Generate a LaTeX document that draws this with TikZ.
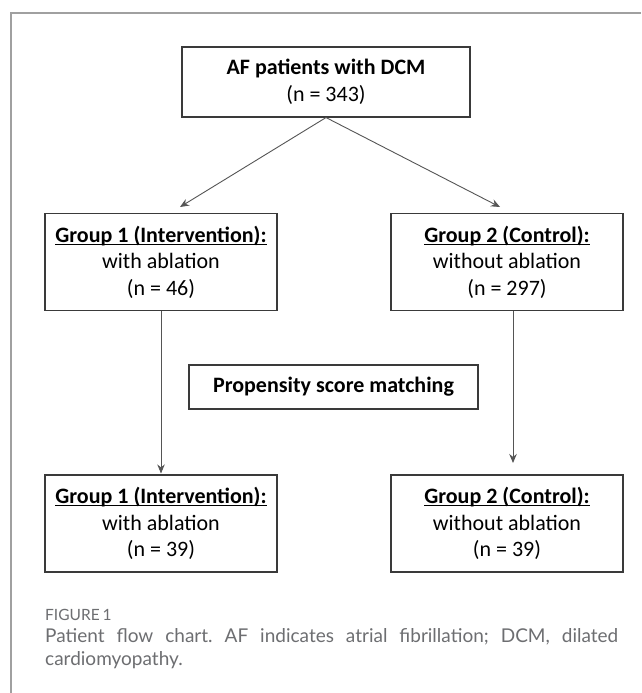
\documentclass[tikz,border=0pt]{standalone}
\usepackage{fontspec}
\setmainfont{Carlito}
\newfontfamily\capfont{Lato}
\usetikzlibrary{arrows.meta}
\definecolor{capgrey}{HTML}{6D6E71}
\definecolor{boxline}{HTML}{3A3A3A}
\definecolor{arrgrey}{HTML}{555555}
\definecolor{framegrey}{HTML}{A0A0A0}
\newcommand{\grouphead}[1]{%
  \setbox0\hbox{\textbf{#1}}%
  \rlap{\rule[-2.5pt]{\wd0}{1.1pt}}\box0}

\begin{document}
\begin{tikzpicture}[x=1pt, y=-1pt,
  flowbox/.style={draw=boxline, line width=1.1pt, align=center, inner sep=0pt,
    font=\fontsize{22}{26.5}\selectfont},
  groupbox/.style={flowbox, minimum width=232pt, minimum height=97pt},
  flowarrow/.style={draw=arrgrey, line width=0.9pt, -{Stealth[length=9pt,width=7.5pt]}}]
\useasboundingbox (0,0) rectangle (641,693);
\fill[white] (0,0) rectangle (641,693);

% frame
\draw[framegrey, line width=1.1pt] (641,13) -- (11,13) -- (11,693);

\node[flowbox, minimum width=288pt, minimum height=70pt] (all) at (326,82)
  {\textbf{AF patients with DCM}\\(n = 343)};

\node[groupbox] (g1) at (161,262)
  {\grouphead{Group 1 (Intervention):}\\with ablation\\(n = 46)};
\node[groupbox] (g2) at (507,262)
  {\grouphead{Group 2 (Control):}\\without ablation\\(n = 297)};

\node[flowbox, minimum width=289pt, minimum height=44pt] (psm) at (333.5,387)
  {\textbf{Propensity score matching}};

\node[groupbox] (m1) at (161,523.5)
  {\grouphead{Group 1 (Intervention):}\\with ablation\\(n = 39)};
\node[groupbox] (m2) at (507,523.5)
  {\grouphead{Group 2 (Control):}\\without ablation\\(n = 39)};

\coordinate (tipL) at (180,207);
\coordinate (tipR) at (500,207);
\coordinate (tipM) at (513,463);

\draw[flowarrow] (all.south) -- (tipL);
\draw[flowarrow] (all.south) -- (tipR);
\draw[flowarrow, shorten >=1pt] (g1.south) -- (m1.north);
\draw[flowarrow] ([xshift=6pt]g2.south) -- (tipM);

% caption
\node[anchor=base west, inner sep=0pt, text=capgrey,
  font=\capfont\fontsize{15.5}{18}\selectfont] (fig) at (45,620)
  {FIGURE\kern3pt 1};
\node[anchor=north west, inner sep=0pt, text width=573pt, align=justify,
  text=capgrey, font=\capfont\fontsize{19}{23.5}\selectfont\frenchspacing] (cap) at (45,628)
  {Patient flow chart. AF indicates atrial fibrillation; DCM, dilated\linebreak
   cardiomyopathy.};
\end{tikzpicture}
\end{document}
